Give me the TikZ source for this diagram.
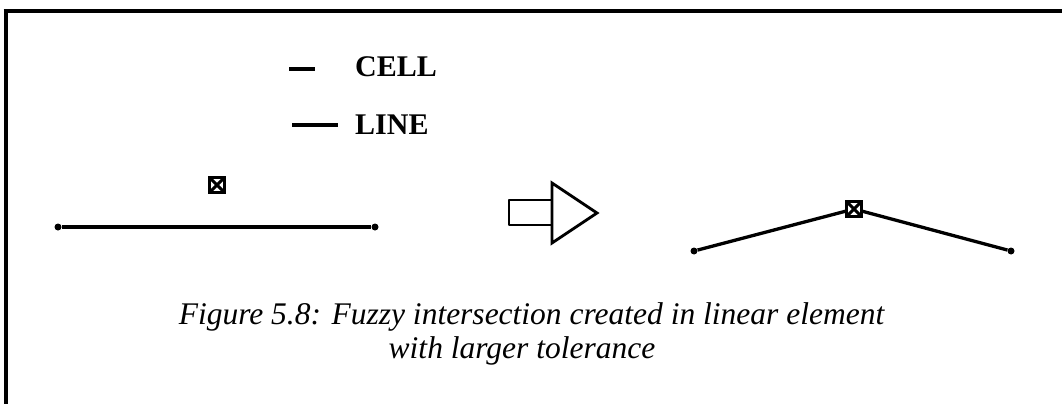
\documentclass[tikz,border=0pt]{standalone}
\usepackage{fontspec}
\setmainfont{Liberation Serif}
\begin{document}
\begin{tikzpicture}[x=1pt,y=-1pt,
  frame/.style={line width=4pt},
  seg/.style={line width=3.3pt},
  dot/.style={circle,fill=black,inner sep=0pt,minimum size=7pt},
  cellmark/.style={draw,line width=3.5pt,minimum size=15pt,inner sep=0pt,fill=white,
     path picture={\draw[line width=3pt] (path picture bounding box.north west) -- (path picture bounding box.south east)
       (path picture bounding box.north east) -- (path picture bounding box.south west);}},
  legend/.style={font=\fontsize{30}{30}\selectfont\bfseries,anchor=base west,inner sep=0pt},
  captext/.style={font=\fontsize{31.5}{31.5}\selectfont\itshape,anchor=base,inner sep=0pt}
]
\useasboundingbox (0,0) rectangle (1062,404);
% frame
\draw[frame] (3.5,11.5) -- (1062,11.5);
\draw[frame] (5.5,9.5) -- (5.5,404);
% legend
\coordinate (c1) at (289,69); \coordinate (c2) at (315,69);
\draw[line width=3.3pt] (c1) -- (c2);
\node[legend] (cell) at (355,77) {CELL};
\coordinate (l1) at (292,125); \coordinate (l2) at (338,125);
\draw[line width=3.3pt] (l1) -- (l2);
\node[legend] (line) at (355,134) {LINE};
% left: line and cell
\node[dot] (a1) at (58,227) {};
\node[dot] (a2) at (375,227) {};
\draw[seg] (a1) -- (a2);
\node[cellmark] (cA) at (217,185) {};
% arrow
\draw[line width=2.8pt,line join=round] (552,200) -- (509,200) -- (509,225) -- (552,225);
\draw[line width=2.8pt,line join=miter] (552,183) -- (597,213) -- (552,243) -- cycle;
% right: bent line
\node[dot] (b1) at (694,251) {};
\node[dot] (b2) at (1011,251) {};
\coordinate (pk) at (854,209);
\draw[seg] (b1) -- (pk) -- (b2);
\node[cellmark] (cB) at (pk) {};
% caption
\node[captext] (cap1) at (531.5,324) {Figure 5.8: Fuzzy intersection created in linear element};
\node[captext] (cap2) at (522,358) {with larger tolerance};
\end{tikzpicture}
\end{document}
